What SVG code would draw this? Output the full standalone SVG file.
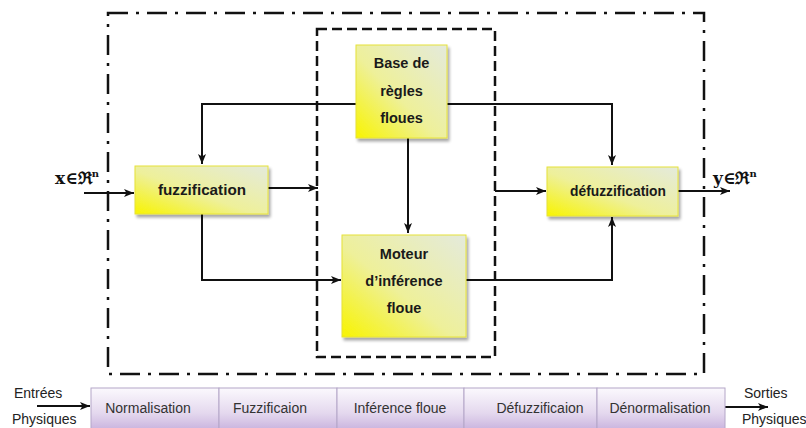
<svg xmlns="http://www.w3.org/2000/svg" width="806" height="428" viewBox="0 0 806 428">
  <defs>
    <linearGradient id="boxFill" x1="0" y1="1" x2="1" y2="0">
      <stop offset="0" stop-color="#f8f400"/>
      <stop offset="0.45" stop-color="#eef09a"/>
      <stop offset="1" stop-color="#e4eadc"/>
    </linearGradient>
    <linearGradient id="barFill" x1="0" y1="0" x2="0" y2="1">
      <stop offset="0" stop-color="#fbf9fd"/>
      <stop offset="0.6" stop-color="#e4d8ee"/>
      <stop offset="1" stop-color="#c9b3de"/>
    </linearGradient>
    <filter id="shadow" x="-10%" y="-10%" width="130%" height="130%">
      <feGaussianBlur in="SourceAlpha" stdDeviation="1.5"/>
      <feOffset dx="2" dy="3" result="b"/>
      <feComponentTransfer><feFuncA type="linear" slope="0.35"/></feComponentTransfer>
      <feMerge><feMergeNode/><feMergeNode in="SourceGraphic"/></feMerge>
    </filter>
    <marker id="arr" viewBox="0 0 10 8" refX="10" refY="4" markerWidth="10" markerHeight="8" markerUnits="userSpaceOnUse" orient="auto">
      <path d="M0,0 L10,4 L0,8 L2.5,4 Z" fill="#111"/>
    </marker>
  </defs>
  <style>
    .box { fill: url(#boxFill); stroke: #e6e23a; stroke-width: 1; filter: url(#shadow); }
    .lbl { font-family: "Liberation Sans", Arial, sans-serif; font-weight: bold; font-size: 14.5px; fill: #1a1a1a; text-anchor: middle; }
    .wire { fill: none; stroke: #111; stroke-width: 2; }
    .math { font-family: "DejaVu Serif", "Liberation Serif", serif; font-weight: bold; font-size: 17px; fill: #111; }
    .bar { fill: url(#barFill); stroke: #b4a6c8; stroke-width: 1; }
    .step { font-family: "Liberation Sans", Arial, sans-serif; font-size: 14px; fill: #333; text-anchor: middle; }
    .side { font-family: "Liberation Sans", Arial, sans-serif; font-size: 14px; fill: #222; }
  </style>

  <rect width="806" height="428" fill="#ffffff"/>

  <!-- system boundaries -->
  <g id="frames">
    <rect x="108" y="13" width="596" height="361" fill="none" stroke="#111" stroke-width="2.5" stroke-dasharray="20 8 3 8"/>
    <rect x="317" y="29" width="178" height="328" fill="none" stroke="#111" stroke-width="2.5" stroke-dasharray="10 5"/>
  </g>

  <!-- connectors -->
  <g id="connectors">
    <path class="wire" d="M356,104 H202 V164" marker-end="url(#arr)"/>
    <path class="wire" d="M447,104 H612 V165" marker-end="url(#arr)"/>
    <path class="wire" d="M408,138 V233" marker-end="url(#arr)"/>
    <path class="wire" d="M84,193 H134" marker-end="url(#arr)"/>
    <path class="wire" d="M268,188 H318" marker-end="url(#arr)"/>
    <path class="wire" d="M202,214 V280 H341" marker-end="url(#arr)"/>
    <path class="wire" d="M466,280 H612 V217" marker-end="url(#arr)"/>
    <path class="wire" d="M495,191 H546" marker-end="url(#arr)"/>
    <path class="wire" d="M678,191 H730" marker-end="url(#arr)"/>
    <path class="wire" d="M37,406 H90" marker-end="url(#arr)"/>
    <path class="wire" d="M725,407 H768" marker-end="url(#arr)"/>
  </g>

  <!-- inputs and outputs -->
  <g id="io">
    <text class="math" x="55" y="184">x∈ℜ<tspan font-size="10" dy="-7">n</tspan></text>
    <text class="math" x="713" y="184">y∈ℜ<tspan font-size="10" dy="-7">n</tspan></text>
  </g>

  <g id="base-regles">
    <rect class="box" x="356" y="45" width="91" height="93"/>
    <text class="lbl" x="401.5" y="68">Base de</text>
    <text class="lbl" x="401.5" y="96">règles</text>
    <text class="lbl" x="401.5" y="123">floues</text>
  </g>

  <g id="fuzzification">
    <rect class="box" x="135" y="166" width="133" height="48"/>
    <text class="lbl" x="202" y="195" textLength="88" lengthAdjust="spacingAndGlyphs">fuzzification</text>
  </g>

  <g id="defuzzification">
    <rect class="box" x="547" y="167" width="131" height="49"/>
    <text class="lbl" x="618" y="196" textLength="96" lengthAdjust="spacingAndGlyphs">défuzzification</text>
  </g>

  <g id="moteur">
    <rect class="box" x="342" y="235" width="124" height="102"/>
    <text class="lbl" x="404" y="259">Moteur</text>
    <text class="lbl" x="404" y="286">d’inférence</text>
    <text class="lbl" x="404" y="313">floue</text>
  </g>

  <!-- processing chain -->
  <g id="chain">
    <rect class="bar" x="91" y="388" width="128" height="42"/>
    <rect class="bar" x="219" y="388" width="118" height="42"/>
    <rect class="bar" x="337" y="388" width="127" height="42"/>
    <rect class="bar" x="464" y="388" width="133" height="42"/>
    <rect class="bar" x="597" y="388" width="128" height="42"/>
    <text class="step" x="148" y="413">Normalisation</text>
    <text class="step" x="270" y="413">Fuzzificaion</text>
    <text class="step" x="400" y="413">Inférence floue</text>
    <text class="step" x="540" y="413">Défuzzificaion</text>
    <text class="step" x="660" y="413">Dénormalisation</text>
  </g>

  <g id="labels">
    <text class="side" x="14" y="398">Entrées</text>
    <text class="side" x="12" y="424">Physiques</text>
    <text class="side" x="744" y="398">Sorties</text>
    <text class="side" x="742" y="424">Physiques</text>
  </g>
</svg>
